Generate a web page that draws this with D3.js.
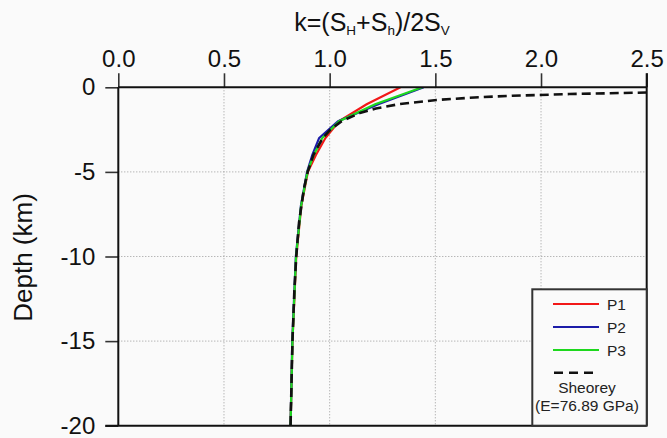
<!DOCTYPE html>
<html>
<head>
<meta charset="utf-8">
<script src="https://cdnjs.cloudflare.com/ajax/libs/d3/7.8.5/d3.min.js"></script>
<style>
    body { margin: 0; background: #fafafa; }
    svg { display: block; font-family: "Liberation Sans", Arial, sans-serif; }
</style>
</head>
<body>
<div class="chart"></div>
<script>
// tick values
var xTicks = [0, 0.5, 1, 1.5, 2, 2.5];
var yTicks = [0, -5, -10, -15, -20];

// depth (km) of the points of the three profiles
var pDepth = [0, 1, 2, 3, 4, 5, 7, 10, 15, 20];
var p1 = [1.335, 1.175, 1.045, 0.98, 0.935, 0.897, 0.866, 0.842, 0.824, 0.815];
var p2 = [1.445, 1.23, 1.04, 0.95, 0.918, 0.893, 0.864, 0.840, 0.823, 0.815];
var p3 = [1.438, 1.215, 1.045, 0.965, 0.925, 0.895, 0.865, 0.841, 0.824, 0.815];

// Sheorey curve
var sheoreyDepth = [0.31, 0.35, 0.4, 0.5, 0.6, 0.75, 1, 1.25, 1.5, 2, 2.5, 3, 4, 5, 6, 8, 10, 12, 15, 20];
var sheoreyK = [2.5, 2.326, 2.134, 1.864, 1.685, 1.506, 1.326, 1.219, 1.147, 1.057, 1.003, 0.967, 0.923, 0.896, 0.878, 0.855, 0.842, 0.833, 0.824, 0.815];

var series = [
    {label: 'P1', color: '#f21818', k: p1, depth: pDepth},
    {label: 'P2', color: '#1c1ca8', k: p2, depth: pDepth},
    {label: 'P3', color: '#1ed81e', k: p3, depth: pDepth}
];

var W = 667, H = 438;
var mLeft = 118.3, mRight = 646.7, mTop = 87.3, mBottom = 425.7;

var x = d3.scaleLinear().domain([0, 2.5]).range([mLeft, mRight]);
var y = d3.scaleLinear().domain([0, -20]).range([mTop, mBottom]);

var svg = d3.select(".chart").append("svg")
    .attr("width", W)
    .attr("height", H);

svg.append("rect").attr("width", W).attr("height", H).attr("fill", "#fafafa");

svg.append("clipPath").attr("id", "plot")
    .append("rect")
    .attr("x", mLeft).attr("y", mTop)
    .attr("width", mRight - mLeft).attr("height", mBottom - mTop);

// grid
var grid = svg.append("g").attr("stroke", "#9a9a9a").attr("stroke-width", 1).attr("stroke-dasharray", "1,2");
grid.selectAll(".vg")
    .data(xTicks.slice(1, -1))
    .enter()
    .append("line")
    .attr("x1", (d)=>x(d)).attr("x2", (d)=>x(d))
    .attr("y1", mTop).attr("y2", mBottom);
grid.selectAll(".hg")
    .data(yTicks.slice(1, -1))
    .enter()
    .append("line")
    .attr("x1", mLeft).attr("x2", mRight)
    .attr("y1", (d)=>y(d)).attr("y2", (d)=>y(d));

// curves
var line = d3.line()
    .x((d)=>x(d[1]))
    .y((d)=>y(-d[0]));

var curves = svg.append("g").attr("clip-path", "url(#plot)");
series.forEach(function (s) {
    curves.append("path")
        .datum(s.depth.map((d, i)=>[d, s.k[i]]))
        .attr("d", line)
        .attr("fill", "none")
        .attr("stroke", s.color)
        .attr("stroke-width", 2.2);
});
curves.append("path")
    .datum(sheoreyDepth.map((d, i)=>[d, sheoreyK[i]]))
    .attr("d", line)
    .attr("fill", "none")
    .attr("stroke", "#111")
    .attr("stroke-width", 2.6)
    .attr("stroke-dasharray", "9,5");

// top axis
var xAxis = svg.append("g")
    .attr("transform", "translate(0," + mTop + ")")
    .call(d3.axisTop(x).tickValues(xTicks).tickFormat(d3.format(".1f")).tickSize(14).tickPadding(6));
xAxis.select(".domain").remove();

// left axis
var yAxis = svg.append("g")
    .attr("transform", "translate(" + mLeft + ",0)")
    .call(d3.axisLeft(y).tickValues(yTicks).tickFormat(d3.format("d")).tickSize(13).tickPadding(10));
yAxis.select(".domain").remove();

[xAxis, yAxis].forEach(function (a) {
    a.selectAll(".tick line").attr("stroke", "#333").attr("stroke-width", 1.6);
    a.selectAll(".tick text").attr("font-size", 24).attr("fill", "#111")
        .attr("font-family", "Liberation Sans, Arial, sans-serif");
});
yAxis.selectAll(".tick text").text((d)=>d === 0 ? "0" : "-" + Math.abs(d));

// frame
var frame = svg.append("g").attr("stroke", "#111").attr("stroke-width", 2);
frame.append("line").attr("x1", mLeft).attr("x2", mRight).attr("y1", mTop).attr("y2", mTop);
frame.append("line").attr("x1", mLeft).attr("x2", mLeft).attr("y1", mTop).attr("y2", mBottom);
frame.append("line").attr("x1", mLeft - 13).attr("x2", mRight).attr("y1", mBottom).attr("y2", mBottom);
frame.append("line").attr("x1", mRight).attr("x2", mRight).attr("y1", mTop - 14).attr("y2", mBottom);

// title
var title = svg.append("text")
    .attr("x", 372)
    .attr("y", 31)
    .attr("text-anchor", "middle")
    .attr("font-size", 25)
    .attr("fill", "#111");
title.append("tspan").text("k=(S");
title.append("tspan").text("H").attr("font-size", 13.5).attr("dy", 4);
title.append("tspan").text("+S").attr("dy", -4);
title.append("tspan").text("h").attr("font-size", 13.5).attr("dy", 4);
title.append("tspan").text(")/2S").attr("dy", -4);
title.append("tspan").text("V").attr("font-size", 13.5).attr("dy", 4);

svg.append("text")
    .attr("transform", "translate(32," + 257.5 + ") rotate(-90)")
    .attr("text-anchor", "middle")
    .attr("font-size", 26)
    .attr("fill", "#111")
    .text("Depth (km)");

// legend
var legend = svg.append("g");
legend.append("rect")
    .attr("x", 532.3).attr("y", 289.3)
    .attr("width", mRight - 532.3).attr("height", mBottom - 289.3)
    .attr("fill", "#fafafa")
    .attr("stroke", "#333")
    .attr("stroke-width", 2);

series.forEach(function (s, i) {
    var ly = 304 + i * 23;
    legend.append("line")
        .attr("x1", 553).attr("x2", 599)
        .attr("y1", ly).attr("y2", ly)
        .attr("stroke", s.color).attr("stroke-width", 2.2);
    legend.append("text")
        .attr("x", 607).attr("y", ly + 5.5)
        .attr("font-size", 15.5)
        .attr("fill", "#222")
        .text(s.label);
});
legend.append("line")
    .attr("x1", 554).attr("x2", 596)
    .attr("y1", 372.7).attr("y2", 372.7)
    .attr("stroke", "#111").attr("stroke-width", 2.4)
    .attr("stroke-dasharray", "9,6");
legend.append("text")
    .attr("x", 587).attr("y", 393.3)
    .attr("text-anchor", "middle")
    .attr("font-size", 15.5)
    .attr("fill", "#222")
    .text("Sheorey");
legend.append("text")
    .attr("x", 587).attr("y", 411)
    .attr("text-anchor", "middle")
    .attr("font-size", 15.5)
    .attr("fill", "#222")
    .text("(E=76.89 GPa)");
</script>
</body>
</html>
